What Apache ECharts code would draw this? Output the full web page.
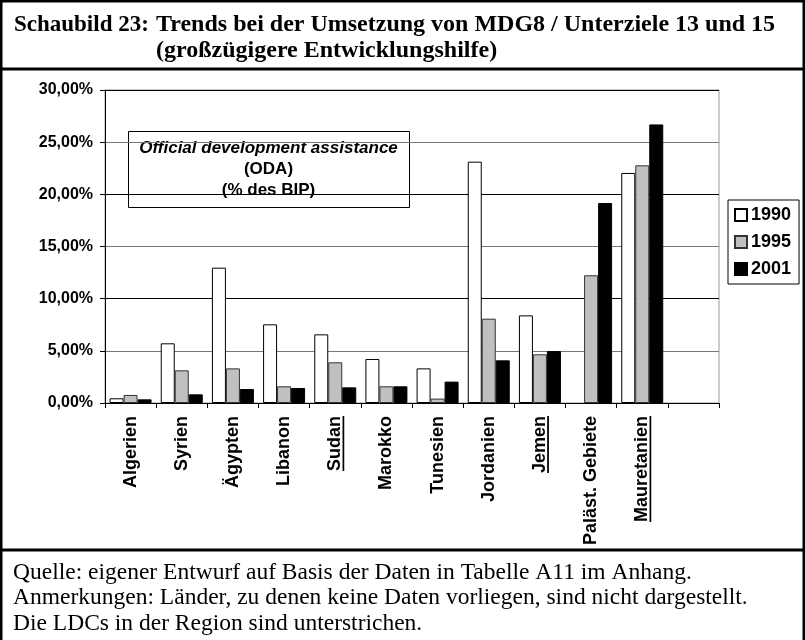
<!DOCTYPE html>
<html>
<head>
<meta charset="utf-8">
<script src="https://cdn.jsdelivr.net/npm/echarts@6/dist/echarts.min.js"></script>
<style>
  html, body { margin: 0; padding: 0; background: #fff; }
  #chart { width: 805px; height: 640px; }
</style>
</head>
<body>
<div id="chart"></div>
<script>
// Länder (letzte Kategorie bleibt leer wie im Original)
var categories = ['Algerien', 'Syrien', 'Ägypten', 'Libanon', 'Sudan', 'Marokko', 'Tunesien',
    'Jordanien', 'Jemen', 'Paläst. Gebiete', 'Mauretanien', ''];
// LDCs werden unterstrichen
var ldcs = ['Sudan', 'Jemen', 'Mauretanien'];
var years = ['1990', '1995', '2001'];
// ODA in % des BIP
var oda1990 = [0.45, 5.72, 12.97, 7.54, 6.58, 4.22, 3.32, 23.13, 8.40, null, 22.05, null];
var oda1995 = [0.77, 3.13, 3.32, 1.60, 3.90, 1.60, 0.42, 8.08, 4.67, 12.24, 22.78, null];
var oda2001 = [0.35, 0.83, 1.34, 1.44, 1.50, 1.60, 2.05, 4.09, 4.98, 19.17, 26.70, null];
var yTicks = [0, 5, 10, 15, 20, 25, 30];

var sans = "'Liberation Sans', Arial, sans-serif";
var serif = "'Liberation Serif', 'Times New Roman', serif";

/* Unterstrich als Hintergrundbild der Rich-Text-Box */
var ul = document.createElement('canvas');
ul.width = 2;
ul.height = 21;
var ulCtx = ul.getContext('2d');
ulCtx.fillStyle = '#000';
ulCtx.fillRect(0, 19, 2, 2);

var myChart = echarts.init(document.getElementById('chart'), null, {renderer: 'canvas'});

var barStyle = [
    {color: '#ffffff', borderColor: '#000', borderWidth: 1},
    {color: '#c0c0c0', borderColor: '#333', borderWidth: 1},
    {color: '#000000', borderColor: '#000', borderWidth: 1}
];
var seriesData = [oda1990, oda1995, oda2001];
var titleFont = {fontFamily: serif, fontSize: 24, fontWeight: 'bold', color: '#000'};

var option = {
    animation: false,
    backgroundColor: '#fff',
    title: [
        {text: 'Schaubild 23:', left: 9, top: 9,
            textStyle: {fontFamily: serif, fontSize: 23, fontWeight: 'bold', color: '#000'}},
        {text: 'Trends bei der Umsetzung von MDG8 / Unterziele 13 und 15', left: 151, top: 8, textStyle: titleFont},
        {text: '(großzügigere Entwicklungshilfe)', left: 151, top: 34, textStyle: titleFont},
        {
            text: 'Quelle: eigener Entwurf auf Basis der Daten in Tabelle A11 im Anhang.\n' +
                'Anmerkungen: Länder, zu denen keine Daten vorliegen, sind nicht dargestellt.\n' +
                'Die LDCs in der Region sind unterstrichen.',
            left: 8, top: 555,
            textStyle: {fontFamily: serif, fontSize: 23.5, fontWeight: 'normal', color: '#000', lineHeight: 25.5}
        }
    ],
    legend: {
        data: years,
        orient: 'vertical',
        left: 728, top: 200,
        padding: [6, 8, 6, 6],
        itemGap: 9,
        itemWidth: 12,
        itemHeight: 12,
        icon: 'rect',
        borderColor: '#000',
        borderWidth: 1,
        textStyle: {fontFamily: sans, fontSize: 18, fontWeight: 'bold', color: '#000', padding: [0, 0, 0, -1]}
    },
    grid: {
        left: 105, top: 90, right: 86, bottom: 237,
        show: true, borderColor: '#999', borderWidth: 1,
        containLabel: false
    },
    xAxis: {
        type: 'category',
        data: categories,
        axisLine: {lineStyle: {color: '#000', width: 1}},
        axisTick: {show: true, interval: 0, length: 5, lineStyle: {color: '#000'}},
        axisLabel: {
            interval: 0,
            rotate: 90,
            margin: 13,
            fontFamily: sans, fontSize: 18, fontWeight: 'bold', color: '#000',
            formatter: function (v) {
                if (ldcs.indexOf(v) >= 0) return '{u|' + v + '}';
                return '{n|' + v + '}';
            },
            rich: {
                n: {fontFamily: sans, fontSize: 18, fontWeight: 'bold', color: '#000', lineHeight: 21},
                u: {fontFamily: sans, fontSize: 18, fontWeight: 'bold', color: '#000', lineHeight: 21,
                    backgroundColor: {image: ul}}
            }
        },
        splitLine: {show: false}
    },
    yAxis: {
        type: 'value',
        min: yTicks[0], max: yTicks[yTicks.length - 1], interval: 5,
        axisLine: {show: true, lineStyle: {color: '#000'}},
        axisTick: {show: true, length: 5, lineStyle: {color: '#000'}},
        axisLabel: {
            margin: 12,
            fontFamily: sans, fontSize: 16, fontWeight: 'bold', color: '#000',
            formatter: function (v) { return v.toFixed(2).replace('.', ',') + '%'; }
        },
        splitLine: {show: true, lineStyle: {color: ['#000', '#777'], width: 1}}
    },
    series: years.map(function (y, i) {
        return {
            name: y,
            type: 'bar',
            data: seriesData[i],
            barWidth: 14,
            barGap: '0%',
            itemStyle: barStyle[i]
        };
    }),
    graphic: [
        // Rahmen
        {type: 'rect', z: 100, shape: {x: 1, y: 1, width: 803, height: 660},
            style: {fill: null, stroke: '#000', lineWidth: 3}},
        {type: 'line', z: 100, shape: {x1: 0, y1: 69, x2: 805, y2: 69}, style: {stroke: '#000', lineWidth: 3}},
        {type: 'line', z: 100, shape: {x1: 0, y1: 550, x2: 805, y2: 550}, style: {stroke: '#000', lineWidth: 3}},
        // Textbox im Diagramm
        {
            type: 'group', left: 128, top: 131, z: 50,
            children: [
                {type: 'rect', shape: {x: 0, y: 0, width: 281, height: 76},
                    style: {fill: '#fff', stroke: '#000', lineWidth: 1}},
                {type: 'text', x: 140, y: 17, style: {text: 'Official development assistance',
                    font: 'italic bold 17px ' + sans, fill: '#000', align: 'center', verticalAlign: 'middle'}},
                {type: 'text', x: 140, y: 38, style: {text: '(ODA)',
                    font: 'bold 17px ' + sans, fill: '#000', align: 'center', verticalAlign: 'middle'}},
                {type: 'text', x: 140, y: 59, style: {text: '(% des BIP)',
                    font: 'bold 17px ' + sans, fill: '#000', align: 'center', verticalAlign: 'middle'}}
            ]
        }
    ]
};

myChart.setOption(option);
</script>
</body>
</html>
